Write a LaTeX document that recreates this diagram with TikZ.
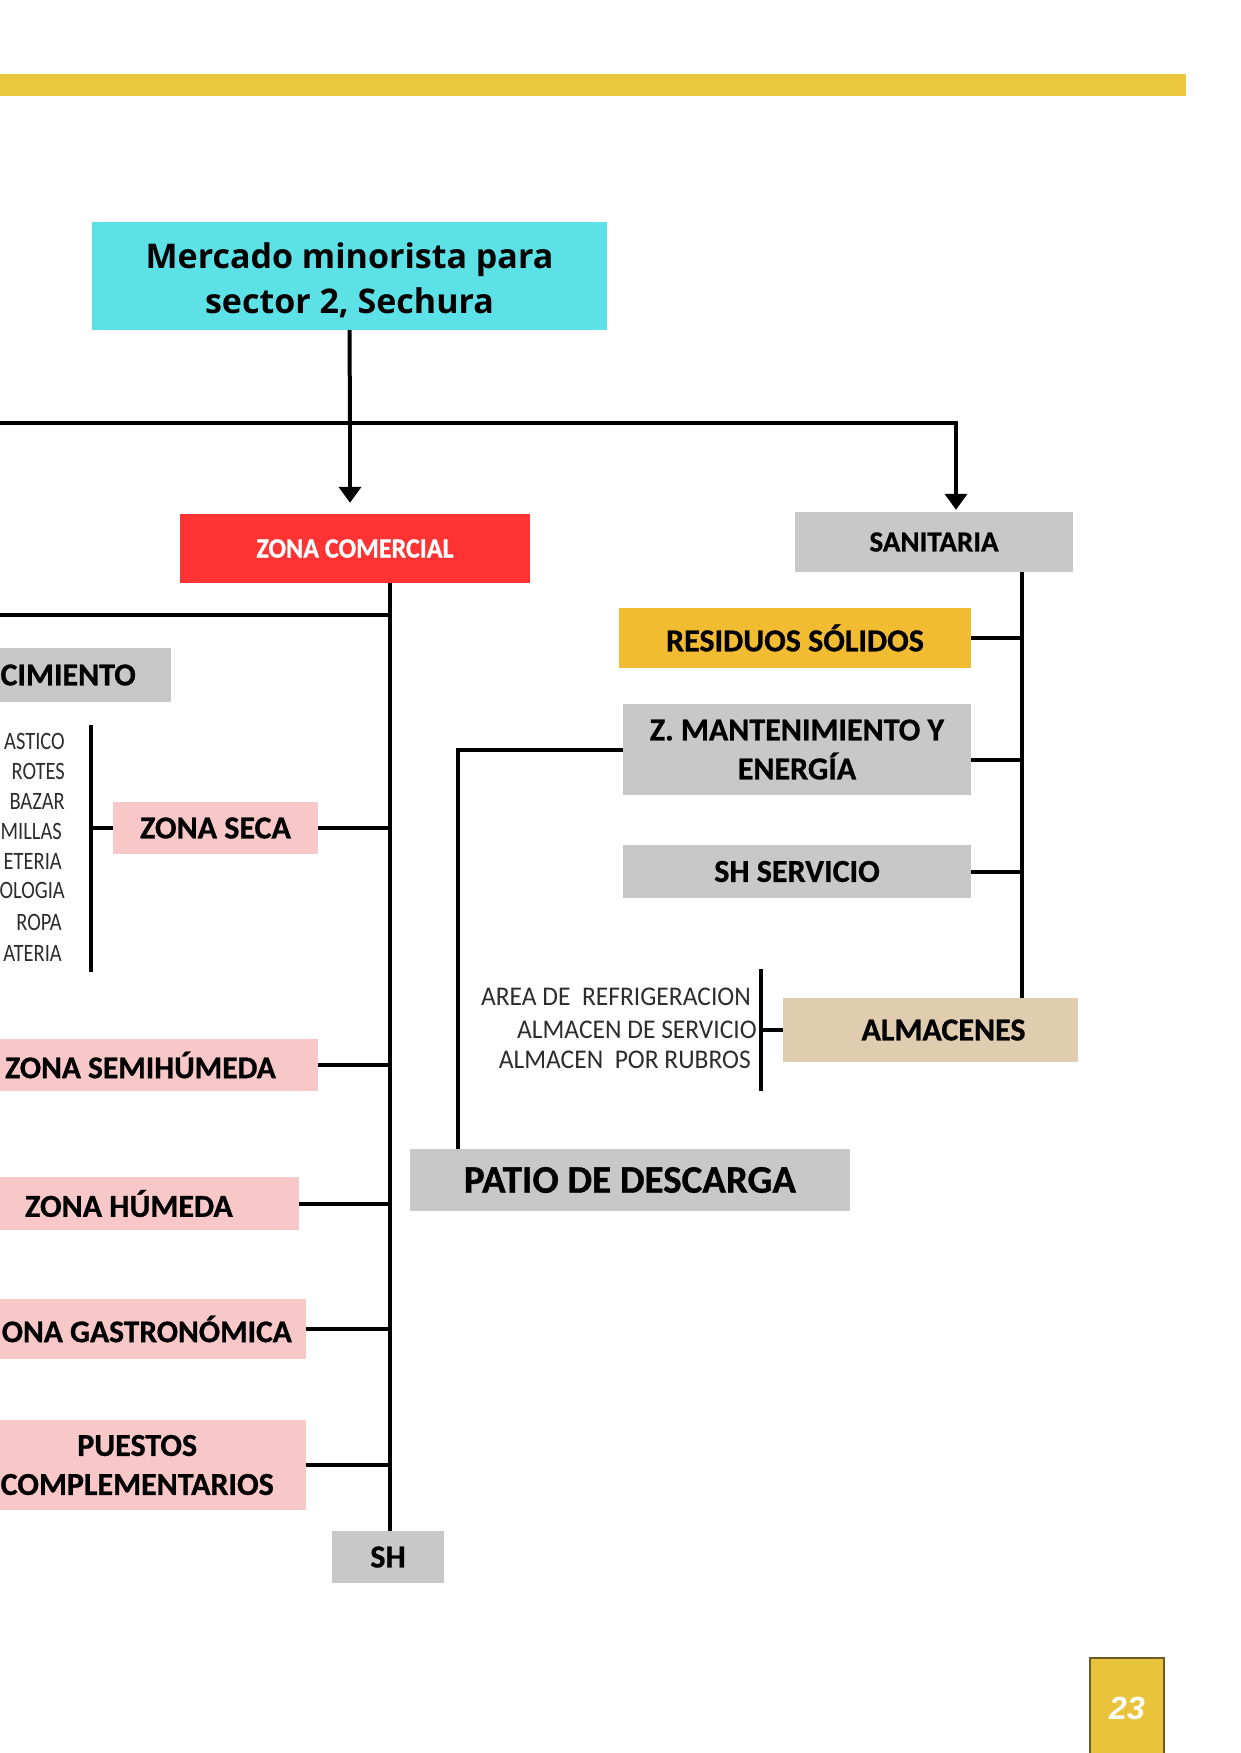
\documentclass[tikz,border=0pt]{standalone}
\usepackage{fontspec}
\setmainfont{Carlito}[BoldFeatures={FakeBold=0.8}]
\newfontfamily\titlefont{Open Sans}
\newfontfamily\numfont{Liberation Sans}
\newfontfamily\condfont[FakeStretch=0.82]{Carlito}
\newfontfamily\almfont[FakeStretch=0.945]{Carlito}
\newfontfamily\zcfont[FakeStretch=0.93,BoldFeatures={FakeBold=0.8}]{Carlito}
\usetikzlibrary{arrows.meta}
\definecolor{topbar}{RGB}{235,199,62}
\definecolor{cyanbox}{RGB}{92,225,230}
\definecolor{redbox}{RGB}{255,51,51}
\definecolor{graybox}{RGB}{200,200,200}
\definecolor{pinkbox}{RGB}{248,200,200}
\definecolor{goldbox}{RGB}{242,188,50}
\definecolor{tanbox}{RGB}{224,205,176}
\definecolor{pagebox}{RGB}{233,196,58}
\definecolor{pageborder}{RGB}{110,90,40}
\definecolor{listtext}{RGB}{45,45,45}
\newcommand{\rbox}[1]{\makebox[330pt][r]{#1}}
\begin{document}
\begin{tikzpicture}[x=1pt,y=-1pt,
  box/.style={rectangle, inner sep=0pt, font=\bfseries\fontsize{32}{39}\selectfont, align=center},
  gbox/.style={box, fill=graybox},
  pbox/.style={box, fill=pinkbox},
  link/.style={line width=4pt},
  arr/.style={line width=4pt, -{Triangle[width=22pt,length=16pt]}},
  listitem/.style={inner sep=0pt, anchor=east, font=\condfont\fontsize{25}{28}\selectfont, text=listtext},
  almitem/.style={inner sep=0pt, anchor=east, font=\almfont\fontsize{27}{30}\selectfont, text=listtext}
]
\clip (0,0) rectangle (1240,1753);
\useasboundingbox (0,0) rectangle (1240,1753);
\fill[white] (0,0) rectangle (1240,1753);

% top bar
\fill[topbar] (0,74) rectangle (1186,96);

% title
\node[box, fill=cyanbox, minimum width=515pt, minimum height=108pt] (title) at (349.5,276) {};
\node[inner sep=0pt, align=center, font=\titlefont\bfseries\fontsize{34}{45}\selectfont]
      (titletext) at (349.5,280.5) {Mercado minorista para\\sector 2, Sechura};

% second level
\node[box, fill=redbox, text=white, minimum width=350pt, minimum height=69pt,
      font=\zcfont\bfseries\fontsize{28}{30}\selectfont] (zc) at (355,548.5) {ZONA COMERCIAL};
\node[gbox, minimum width=278pt, minimum height=60pt,
      font=\bfseries\fontsize{29}{30}\selectfont] (san) at (934,542) {SANITARIA};

% zona comercial children
\node[gbox, anchor=east, inner xsep=35pt, minimum height=54pt]
      (abast) at (171,675) {\rbox{CIMIENTO}};
\node[pbox, minimum width=205pt, minimum height=52pt] (zseca) at (215.5,828) {ZONA SECA};
\node[pbox, anchor=east, inner xsep=42pt, minimum height=52pt, font=\bfseries\fontsize{31.5}{39}\selectfont]
      (zsemi) at (318,1065) {\rbox{ZONA SEMIHÚMEDA}};
\node[pbox, anchor=east, inner xsep=66pt, minimum height=53pt]
      (zhum) at (299,1203.5) {\rbox{ZONA HÚMEDA}};
\node[pbox, anchor=east, inner xsep=14pt, minimum height=60pt, font=\bfseries\fontsize{31.5}{39}\selectfont]
      (zgas) at (306,1329) {\rbox{ONA GASTRONÓMICA}};
\node[pbox, anchor=east, inner xsep=32pt, minimum height=90pt] (zpue) at (306,1465) {PUESTOS\\COMPLEMENTARIOS};
\node[gbox, minimum width=112pt, minimum height=52pt] (sh) at (388,1557) {SH};

% list of zona seca
\node[listitem] (l1) at (65,741) {ASTICO};
\node[listitem] (l2) at (65,771) {ROTES};
\node[listitem] (l3) at (65,801) {BAZAR};
\node[listitem] (l4) at (62,831) {MILLAS};
\node[listitem] (l5) at (62,861) {ETERIA};
\node[listitem] (l6) at (65,890) {OLOGIA};
\node[listitem] (l7) at (62,922) {ROPA};
\node[listitem] (l8) at (62,953) {ATERIA};

% sanitaria children
\node[box, fill=goldbox, minimum width=352pt, minimum height=60pt] (res) at (795,638) {RESIDUOS SÓLIDOS};
\node[gbox, minimum width=348pt, minimum height=91pt] (mant) at (797,749.5) {Z. MANTENIMIENTO Y\\ENERGÍA};
\node[gbox, minimum width=348pt, minimum height=53pt] (shs) at (797,871.5) {SH SERVICIO};
\node[box, fill=tanbox, minimum width=295pt, minimum height=64pt, text width=269pt, align=right, inner xsep=13pt]
      (alm) at (930.5,1030) {\makebox[269pt][c]{\hspace{26pt}ALMACENES}};
\node[gbox, minimum width=440pt, minimum height=62pt,
      font=\bfseries\fontsize{39}{40}\selectfont] (patio) at (630,1180) {PATIO DE DESCARGA};

% almacenes list
\node[almitem] (a1) at (751,997) {AREA DE\ \ REFRIGERACION};
\node[almitem] (a2) at (757,1030) {ALMACEN DE SERVICIO};
\node[almitem] (a3) at (751,1060) {ALMACEN\ \ POR RUBROS};

% page number
\node[draw=pageborder, line width=1.5pt, fill=pagebox, minimum width=74pt, minimum height=100pt,
      inner sep=0pt, text=white, font=\numfont\bfseries\itshape\fontsize{32}{34}\selectfont]
      (pg) at (1127,1708) {23};

% coordinates
\coordinate (split) at (350,423);
\coordinate (leftend) at (-10,423);
\coordinate (rightcorner) at (956,423);
\coordinate (ztrunk) at (390,0);
\coordinate (zleft) at (-10,615);
\coordinate (lbtop) at (91,725);
\coordinate (lbbot) at (91,972);
\coordinate (strunk) at (1022,0);
\coordinate (patiox) at (458,0);
\coordinate (abtop) at (761,969);
\coordinate (abbot) at (761,1091);
\coordinate (mantr) at ([yshift=-10pt]mant.east);

% connectors
\draw[link] (title.south) -- (split);
\draw[arr, shorten >=2pt] (leftend) -- (rightcorner) -- (san.north -| rightcorner);
\draw[arr, shorten >=11pt] (split) -- (zc.north -| split);

\draw[link] (zc.south -| ztrunk) -- (sh.north -| ztrunk);
\draw[link] (zleft) -- (zleft -| ztrunk);
\draw[link] (zseca.east) -- (zseca.east -| ztrunk);
\draw[link] (zsemi.east) -- (zsemi.east -| ztrunk);
\draw[link] (zhum.east) -- (zhum.east -| ztrunk);
\draw[link] (zgas.east) -- (zgas.east -| ztrunk);
\draw[link] (zpue.east) -- (zpue.east -| ztrunk);
\draw[link] (lbtop) -- (lbbot);
\draw[link] (zseca.west) -- (zseca.west -| lbtop);

\draw[link] (san.south -| strunk) -- (alm.north -| strunk);
\draw[link] (res.east) -- (res.east -| strunk);
\draw[link] (mantr) -- (mantr -| strunk);
\draw[link] (shs.east) -- (shs.east -| strunk);
\draw[link] (mant.west) -- (mant.west -| patiox) -- (patio.north -| patiox);
\draw[link] (abtop) -- (abbot);
\draw[link] (alm.west) -- (alm.west -| abtop);
\end{tikzpicture}
\end{document}
